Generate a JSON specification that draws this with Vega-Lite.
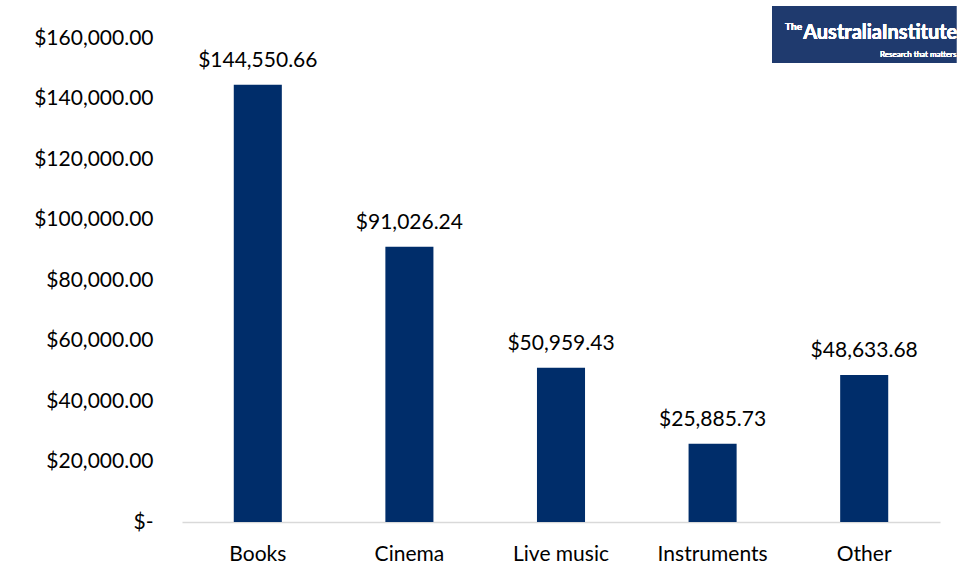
{
  "$schema": "https://vega.github.io/schema/vega-lite/v6.json",
  "width": 758,
  "height": 484,
  "autosize": {"type": "none"},
  "padding": {"left": 182, "top": 38, "right": 17, "bottom": 58},
  "background": "#ffffff",
  "config": {
    "view": {"stroke": null},
    "font": "Lato",
    "axis": {"labelFont": "Lato", "labelFontSize": 21, "labelColor": "#000000", "grid": false, "ticks": false, "title": null}
  },
  "data": {
    "values": [
      {"category": "Books", "amount": 144550.66},
      {"category": "Cinema", "amount": 91026.24},
      {"category": "Live music", "amount": 50959.43},
      {"category": "Instruments", "amount": 25885.73},
      {"category": "Other", "amount": 48633.68}
    ]
  },
  "layer": [
    {
      "mark": {"type": "bar", "color": "#002D6A", "clip": false},
      "encoding": {
        "x": {
          "field": "category", "type": "nominal", "sort": null,
          "scale": {"paddingInner": 0.683, "paddingOuter": 0.3415},
          "axis": {"labelAngle": 0, "domain": true, "domainColor": "#d9d9d9", "domainWidth": 1.5, "labelPadding": 21, "labelBaseline": "top"}
        },
        "y": {
          "field": "amount", "type": "quantitative",
          "scale": {"domain": [0, 160000], "nice": false, "zero": true},
          "axis": {
            "values": [0, 20000, 40000, 60000, 80000, 100000, 120000, 140000, 160000],
            "labelExpr": "datum.value == 0 ? '$-\u2002' : '$' + format(datum.value, ',.2f')",
            "domain": false, "labelPadding": 29, "labelBaseline": "middle"
          }
        }
      }
    },
    {
      "mark": {"type": "text", "baseline": "alphabetic", "dy": -18, "fontSize": 21, "color": "#000000", "font": "Lato"},
      "encoding": {
        "x": {"field": "category", "type": "nominal", "sort": null},
        "y": {"field": "amount", "type": "quantitative"},
        "text": {"field": "amount", "type": "quantitative", "format": "$,.2f"}
      }
    },
    {
      "mark": {"type": "bar", "color": "#1F3A6E", "width": {"band": 3.83}, "clip": false},
      "encoding": {
        "x": {"datum": "Other"},
        "y": {"datum": 170578},
        "y2": {"datum": 151736}
      }
    },
    {
      "mark": {"type": "text", "align": "left", "baseline": "middle", "fontSize": 10, "fontWeight": "bold", "color": "#ffffff", "font": "Lato", "clip": false, "text": "The"},
      "encoding": {
        "x": {"datum": "Other", "bandPosition": -1.146},
        "y": {"datum": 163636}
      }
    },
    {
      "mark": {"type": "text", "align": "left", "baseline": "middle", "fontSize": 20, "fontWeight": "bold", "color": "#ffffff", "font": "Lato", "clip": false, "text": "AustraliaInstitute"},
      "encoding": {
        "x": {"datum": "Other", "bandPosition": -0.77},
        "y": {"datum": 161653}
      }
    },
    {
      "mark": {"type": "text", "align": "left", "baseline": "middle", "fontSize": 8, "color": "#ffffff", "font": "Lato", "clip": false, "text": "Research that matters"},
      "encoding": {
        "x": {"datum": "Other", "bandPosition": 0.83},
        "y": {"datum": 154380}
      }
    }
  ]
}
